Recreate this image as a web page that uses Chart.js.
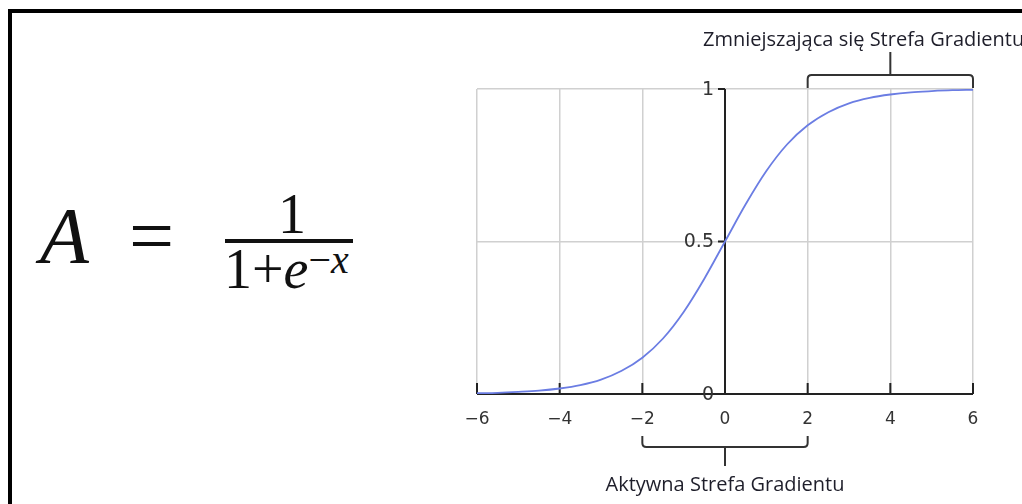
<!DOCTYPE html>
<html>
<head>
<meta charset="utf-8">
<script src="https://cdn.jsdelivr.net/npm/chart.js@4.4.1/dist/chart.umd.min.js"></script>
<style>
  html, body { margin: 0; padding: 0; background: #fff; width: 1022px; height: 504px; overflow: hidden; }
  #frame { position: absolute; left: 8px; top: 9px; width: 1100px; height: 600px; border-left: 4px solid #000; border-top: 4px solid #000; }
  #chart { position: absolute; left: 0; top: 0; }
  .f { position: absolute; font-family: "Liberation Serif", "Times New Roman", serif; color: #111; line-height: 1; white-space: nowrap; }
  .bar { position: absolute; background: #111; }
</style>
</head>
<body>
<div id="frame"></div>

<!-- sigmoid formula -->
<div class="f" style="left:40px; top:196px; font-size:80px; font-style:italic;">A</div>
<div class="f" style="left:129px; top:196px; font-size:80px;">=</div>
<div class="f" style="left:278px; top:186px; font-size:56px;">1</div>
<div class="bar" style="left:225px; top:239px; width:128px; height:4px;"></div>
<div class="f" style="left:224px; top:241px; font-size:56px;">1+<i>e</i><span style="font-size:40px; position:relative; top:-15px;">−<i>x</i></span></div>

<canvas id="chart" width="1022" height="504"></canvas>

<script>
// sampled activation curve
const xValues = [-6, -5.5, -5, -4.5, -4, -3.5, -3, -2.5, -2, -1.5, -1, -0.5, 0,
                 0.5, 1, 1.5, 2, 2.5, 3, 3.5, 4, 4.5, 5, 5.5, 6];
const yValues = [0.0025, 0.004, 0.007, 0.011, 0.018, 0.029, 0.047, 0.076, 0.119, 0.182, 0.269, 0.378, 0.5,
                 0.622, 0.731, 0.818, 0.881, 0.924, 0.953, 0.971, 0.982, 0.989, 0.993, 0.996, 0.9975];

const xTicks = [-6, -4, -2, 0, 2, 4, 6];
const yTicks = [0, 0.5, 1];
const yTickLabels = ['0', '0.5', '1'];

const activeZone = [-2, 2];
const fadingZone = [2, 6];
const activeLabel = 'Aktywna Strefa Gradientu';
const fadingLabel = 'Zmniejszająca się Strefa Gradientu';

const axisColor = '#222';
const gridColor = '#d0d0d0';
const tickFont = '19px "DejaVu Sans"';
const noteFont = '20px "Open Sans"';

// black axes crossing at (0, 0) with their tick marks
const centerAxes = {
    id: 'centerAxes',
    beforeDatasetsDraw(chart) {
        const { ctx, scales: { x, y } } = chart;
        const x0 = x.getPixelForValue(0);
        const y0 = y.getPixelForValue(0);
        ctx.save();
        ctx.strokeStyle = axisColor;
        ctx.lineWidth = 2;
        ctx.beginPath();
        ctx.moveTo(x.getPixelForValue(xTicks[0]), y0);
        ctx.lineTo(x.getPixelForValue(xTicks[xTicks.length - 1]), y0);
        xTicks.forEach(v => {
            const px = x.getPixelForValue(v);
            ctx.moveTo(px, y0);
            ctx.lineTo(px, y0 - 11);
        });
        ctx.moveTo(x0, y.getPixelForValue(1));
        ctx.lineTo(x0, y0);
        yTicks.forEach(v => {
            const py = y.getPixelForValue(v);
            ctx.moveTo(x0, py);
            ctx.lineTo(x0 - 7, py);
        });
        ctx.stroke();

        ctx.fillStyle = '#333';
        ctx.font = tickFont;
        ctx.textAlign = 'right';
        ctx.textBaseline = 'middle';
        yTicks.forEach((v, i) => {
            ctx.fillText(yTickLabels[i], x0 - 11, y.getPixelForValue(v) + 1);
        });
        ctx.restore();
    }
};

// brackets marking the two gradient zones
function bracket(ctx, xa, xb, yLine, yEnd, yStem) {
    const r = 4;
    const dir = Math.sign(yEnd - yLine);
    const mid = (xa + xb) / 2;
    ctx.beginPath();
    ctx.moveTo(xa, yEnd);
    ctx.lineTo(xa, yLine + dir * r);
    ctx.quadraticCurveTo(xa, yLine, xa + r, yLine);
    ctx.lineTo(xb - r, yLine);
    ctx.quadraticCurveTo(xb, yLine, xb, yLine + dir * r);
    ctx.lineTo(xb, yEnd);
    ctx.moveTo(mid, yLine);
    ctx.lineTo(mid, yStem);
    ctx.stroke();
}

const zoneNotes = {
    id: 'zoneNotes',
    afterDraw(chart) {
        const { ctx, scales: { x } } = chart;
        ctx.save();
        ctx.strokeStyle = '#333';
        ctx.lineWidth = 2;

        const fa = x.getPixelForValue(fadingZone[0]);
        const fb = x.getPixelForValue(fadingZone[1]);
        bracket(ctx, fa, fb, 75, 88, 52);

        const aa = x.getPixelForValue(activeZone[0]);
        const ab = x.getPixelForValue(activeZone[1]);
        bracket(ctx, aa, ab, 447, 436, 466);

        ctx.fillStyle = '#1e1e2a';
        ctx.font = noteFont;
        ctx.textBaseline = 'middle';
        ctx.textAlign = 'center';
        ctx.fillText(activeLabel, (aa + ab) / 2, 485);
        ctx.textAlign = 'left';
        ctx.fillText(fadingLabel, 703, 40);
        ctx.restore();
    }
};

new Chart(document.getElementById('chart'), {
    type: 'line',
    data: {
        labels: xValues,
        datasets: [{
            data: xValues.map((v, i) => ({ x: v, y: yValues[i] })),
            borderColor: '#6b7de3',
            borderWidth: 1.8,
            pointRadius: 0,
            fill: false,
            cubicInterpolationMode: 'monotone'
        }]
    },
    options: {
        responsive: false,
        animation: false,
        events: [],
        layout: { padding: { left: 477, right: 49, top: 89, bottom: 0 } },
        plugins: { legend: { display: false }, tooltip: { enabled: false } },
        scales: {
            x: {
                type: 'linear',
                min: -6,
                max: 6,
                afterFit(scale) { scale.height = 110; },
                afterBuildTicks(scale) { scale.ticks = xTicks.map(v => ({ value: v })); },
                border: { display: false },
                grid: { color: gridColor, lineWidth: 1.5, drawTicks: false },
                ticks: {
                    padding: 15,
                    color: '#333',
                    font: { family: 'DejaVu Sans', size: 17 },
                    callback: v => String(v).replace('-', '\u2212')
                }
            },
            y: {
                min: 0,
                max: 1,
                afterFit(scale) { scale.width = 0; },
                afterBuildTicks(scale) { scale.ticks = yTicks.map(v => ({ value: v })); },
                border: { display: false },
                grid: { color: gridColor, lineWidth: 1.5, drawTicks: false },
                ticks: { display: false }
            }
        }
    },
    plugins: [centerAxes, zoneNotes]
});
</script>
</body>
</html>
